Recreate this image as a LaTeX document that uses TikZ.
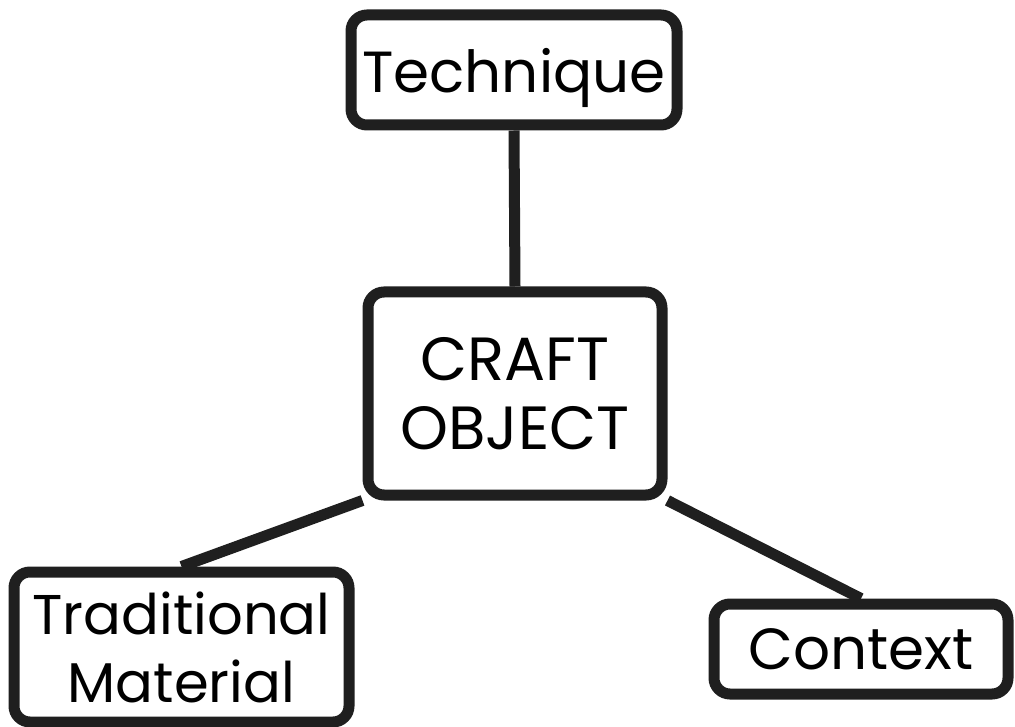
\documentclass[tikz,border=0pt]{standalone}
\usepackage{fontspec}
\setmainfont{Poppins}
\usetikzlibrary{backgrounds}
\tikzset{
  concept/.style={draw=black!88, fill=white, line width=11pt, rounded corners=16pt,
    inner sep=0pt, align=center, text depth=0pt},
  link/.style={draw=black!88, line width=11pt},
}
\begin{document}
\begin{tikzpicture}[x=1pt,y=-1pt]
  \useasboundingbox (0,0) rectangle (1015,727);

  \node[concept, font=\fontsize{58}{69}\selectfont, minimum width=326pt, minimum height=110pt]
    (tech) at (514,70) {Technique};
  \node[concept, font=\fontsize{61}{69}\selectfont, minimum width=294pt, minimum height=203pt]
    (craft) at (515,393.5) {CRAFT\\OBJECT};
  \node[concept, font=\fontsize{56}{68}\selectfont, minimum width=335pt, minimum height=150pt]
    (trad) at (181.5,647) {Traditional\\Material};
  \node[concept, font=\fontsize{58}{68}\selectfont, minimum width=294pt, minimum height=90pt]
    (ctx) at (861,649) {Context};

  \begin{pgfonlayer}{background}
    \draw[link] (tech.south) -- (craft.north);
    \draw[link] (craft.south west) -- (trad.north);
    \draw[link] (craft.south east) -- (ctx.north);
  \end{pgfonlayer}
\end{tikzpicture}
\end{document}
